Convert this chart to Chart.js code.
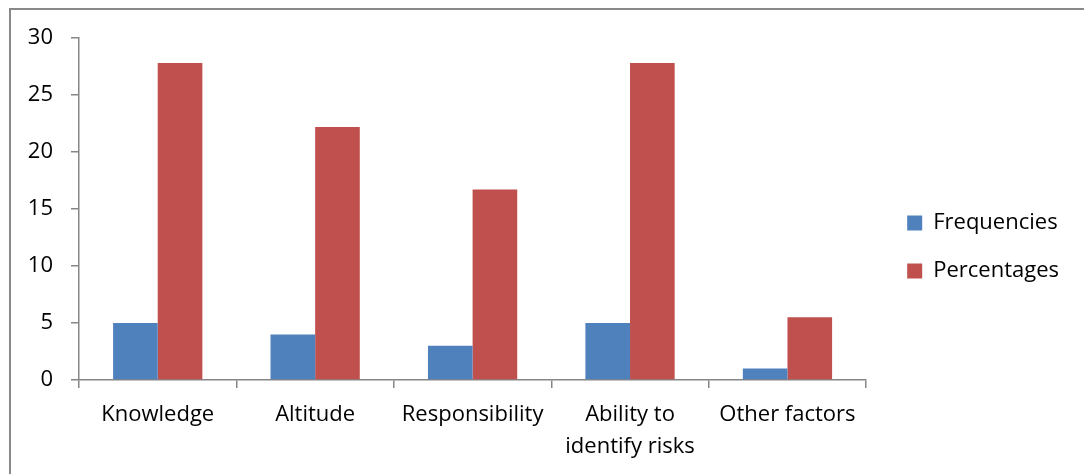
<!DOCTYPE html>
<html>
<head>
<meta charset="utf-8">
<script src="https://cdn.jsdelivr.net/npm/chart.js@4"></script>
<style>
  body { margin: 0; background: #fff; }
  #wrap { position: relative; width: 1084px; height: 474px; overflow: hidden; }
  #frame { position: absolute; left: 9px; top: 8px; width: 1200px; height: 600px;
           border-left: 2px solid #898989; border-top: 2px solid #898989; }
  canvas { position: absolute; left: 0; top: 0; }
</style>
</head>
<body>
<div id="wrap">
  <div id="frame"></div>
  <canvas id="factorChart" width="1084" height="474"></canvas>
</div>
<script>
const categories = ['Knowledge', 'Altitude', 'Responsibility', ['Ability to', 'identify risks'], 'Other factors'];
const frequencies = [5, 4, 3, 5, 1];
const percentages = [27.8, 22.2, 16.7, 27.8, 5.5];
const yTicks = [0, 5, 10, 15, 20, 25, 30];

const axisColor = '#868686';
const fontFamily = '"Open Sans", "Noto Sans", sans-serif';

// move the legend a little away from the plot, like the original
const legendNudge = {
  id: 'legendNudge',
  afterLayout(chart) {
    const lg = chart.legend;
    lg.left += 15;
    lg.right += 15;
    lg.top -= 9;
    lg.bottom -= 9;
  }
};

const ctx = document.getElementById('factorChart').getContext('2d');
new Chart(ctx, {
  type: 'bar',
  data: {
    labels: categories,
    datasets: [{
      label: 'Frequencies',
      data: frequencies,
      backgroundColor: '#4F81BD',
      borderWidth: 0
    }, {
      label: 'Percentages',
      data: percentages,
      backgroundColor: '#C0504D',
      borderWidth: 0
    }]
  },
  options: {
    responsive: false,
    animation: false,
    datasets: {
      bar: { categoryPercentage: 0.567, barPercentage: 1 }
    },
    layout: { padding: { top: 38, right: 30, bottom: 0, left: 0 } },
    plugins: {
      legend: {
        position: 'right',
        labels: {
          boxWidth: 15,
          boxHeight: 15,
          padding: 26,
          color: '#000',
          font: { family: fontFamily, size: 22 }
        }
      },
      tooltip: { enabled: false }
    },
    scales: {
      x: {
        grid: { drawOnChartArea: false, tickLength: 8, color: axisColor, lineWidth: 1.5 },
        border: { color: axisColor, width: 1.5 },
        ticks: {
          color: '#000',
          padding: 11,
          maxRotation: 0,
          font: { family: fontFamily, size: 22, lineHeight: 1.45 }
        },
        afterFit(scale) { scale.height = 94; }
      },
      y: {
        min: 0,
        max: 30,
        afterBuildTicks(scale) { scale.ticks = yTicks.map(v => ({ value: v })); },
        grid: { drawOnChartArea: false, tickLength: 8, color: axisColor, lineWidth: 1.5 },
        border: { color: axisColor, width: 1.5 },
        ticks: {
          color: '#000',
          padding: 18,
          font: { family: fontFamily, size: 22 }
        },
        afterFit(scale) { scale.width = 79; }
      }
    }
  },
  plugins: [legendNudge]
});
</script>
</body>
</html>
